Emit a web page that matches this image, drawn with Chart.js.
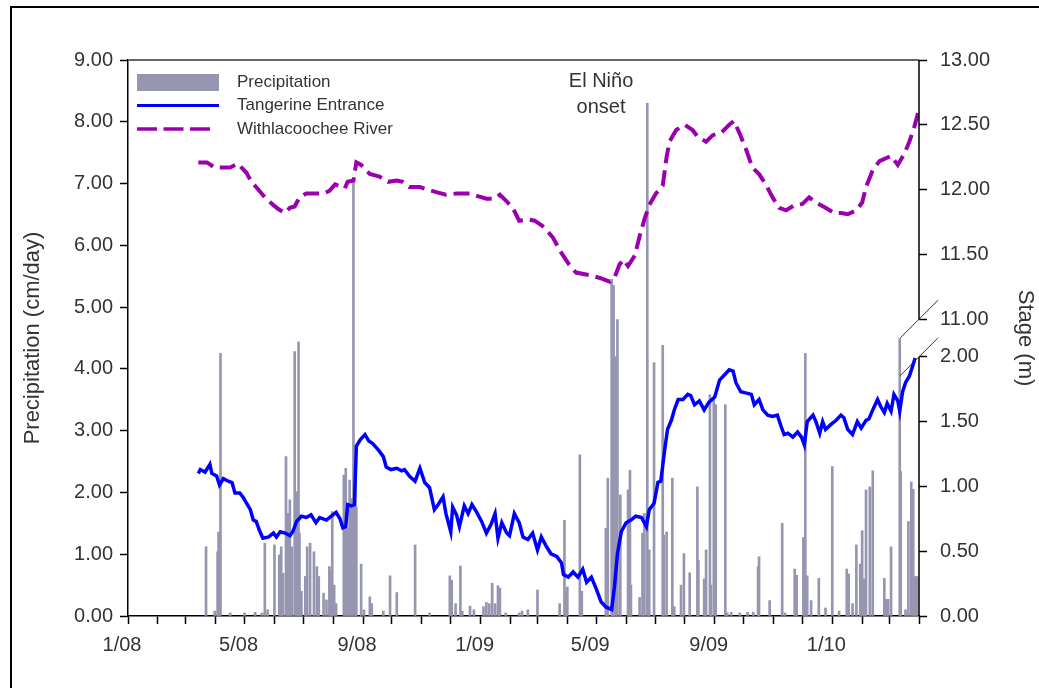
<!DOCTYPE html>
<html>
<head>
<meta charset="utf-8">
<title>Precipitation and stage</title>
<script src="https://cdn.jsdelivr.net/npm/chart.js@4.4.0/dist/chart.umd.min.js"></script>
<style>
  html, body { margin: 0; padding: 0; background: #fff; }
  canvas { display: block; }
</style>
</head>
<body>
<canvas id="grafico" width="1039" height="688"></canvas>
<script>
// all x values are days counted from 1 Jan 2008
const precipDays = [81,90,93,94,96,106,121,132,139,142,145,152,157,159,161,164,166,168,170,173,175,177,178,180,184,186,189,193,196,198,
  203,206,209,211,212,214,216,224,226,228,230,232,234,236,237,242,245,251,253,265,272,279,298,313,334,336,340,345,347,355,
  359,369,372,375,378,381,384,386,392,406,409,415,425,448,453,455,456,469,471,496,498,502,503,504,506,508,511,519,521,522,
  531,534,536,539,541,546,555,556,559,565,567,574,577,583,591,592,598,600,604,605,608,610,620,622,626,635,643,649,654,655,
  666,679,682,692,694,701,703,705,709,717,724,731,738,746,748,752,756,760,762,764,766,770,773,785,787,789,792,801,802,807,
  810,813,815,817,819]
const precipCm = [1.12,0.08,1.04,1.36,4.25,0.05,0.05,0.06,0.05,1.18,0.10,1.15,0.99,1.12,0.69,2.58,1.66,1.88,1.12,4.28,2.01,4.44,1.34,0.40,0.64,1.12,1.18,1.04,0.80,0.64,
  0.37,0.26,0.80,0.74,1.69,0.50,0.20,2.28,2.39,1.42,2.20,1.90,7.10,2.36,1.77,0.84,0.10,0.31,0.20,0.08,0.65,0.38,1.15,0.05,0.65,0.58,0.20,0.81,0.08,0.16,
  0.10,0.15,0.22,0.20,0.53,0.20,0.49,0.45,0.05,0.05,0.08,0.10,0.42,0.20,1.55,0.40,0.47,2.61,0.40,1.42,2.23,5.45,2.20,5.35,4.20,4.80,1.96,2.04,2.36,0.50,
  0.30,1.34,1.66,8.30,1.07,4.10,4.38,1.31,1.36,2.23,0.15,0.50,1.01,0.70,2.09,0.90,0.60,1.07,3.58,0.50,3.50,3.42,3.42,0.05,0.06,0.05,0.06,0.06,0.80,0.96,
  0.25,1.50,0.05,0.76,0.66,1.27,4.25,0.65,0.25,0.61,0.13,2.42,0.08,0.76,0.68,0.20,1.15,0.84,1.38,0.60,2.04,2.09,2.35,0.61,0.27,0.27,1.12,4.49,2.34,0.10,
  1.53,2.17,2.05,0.64,0.64]

const tangerineDays = [73,75,80,85,87,92,95,99,104,108,111,116,120,123,127,130,133,137,140,146,151,154,158,163,168,171,175,180,185,190,
  195,199,206,211,216,220,223,226,228,232,235,237,241,246,250,254,260,265,268,273,279,284,287,292,298,303,308,313,318,322,
  327,330,335,337,341,344,349,353,357,362,367,372,377,381,384,388,393,396,401,406,410,415,420,425,429,434,439,445,450,452,
  457,462,467,472,476,481,486,491,496,502,505,508,512,517,522,527,533,538,541,546,550,553,557,560,564,567,571,576,581,584,
  588,593,598,603,609,614,619,624,628,631,636,642,647,650,655,659,664,669,674,678,681,685,690,695,699,702,705,711,714,718,
  721,724,730,735,740,743,747,752,757,761,766,769,773,778,781,785,788,792,795,799,801,804,807,811,814,817]
const tangerineStage = [1.10,1.13,1.11,1.17,1.10,1.08,1.01,1.06,1.04,1.03,0.95,0.95,0.91,0.87,0.82,0.74,0.73,0.65,0.60,0.61,0.64,0.61,0.65,0.64,0.62,0.65,0.73,0.77,0.76,0.78,
  0.72,0.76,0.74,0.77,0.80,0.75,0.68,0.69,0.86,0.85,0.86,1.31,1.36,1.40,1.35,1.33,1.28,1.23,1.15,1.13,1.14,1.12,1.13,1.08,1.04,1.14,1.03,0.99,0.82,0.86,
  0.92,0.79,0.65,0.84,0.78,0.69,0.85,0.79,0.86,0.80,0.73,0.64,0.71,0.79,0.60,0.72,0.64,0.62,0.79,0.72,0.61,0.59,0.64,0.51,0.61,0.54,0.48,0.46,0.41,0.32,
  0.30,0.34,0.30,0.36,0.26,0.30,0.21,0.11,0.07,0.05,0.23,0.48,0.65,0.72,0.74,0.77,0.76,0.69,0.82,0.87,1.03,1.04,1.28,1.44,1.51,1.59,1.67,1.67,1.71,1.70,
  1.63,1.66,1.59,1.65,1.69,1.82,1.86,1.90,1.89,1.80,1.73,1.72,1.71,1.63,1.67,1.59,1.55,1.54,1.55,1.46,1.40,1.41,1.38,1.42,1.38,1.32,1.50,1.55,1.50,1.41,
  1.50,1.44,1.48,1.51,1.55,1.53,1.44,1.40,1.50,1.45,1.51,1.52,1.59,1.67,1.62,1.57,1.64,1.58,1.71,1.66,1.58,1.73,1.80,1.85,1.92,1.99]

const riverDays = [73,82,90,97,106,114,123,128,133,142,151,156,163,168,173,178,185,192,203,209,215,225,228,234,237,242,251,261,270,279,
  285,292,303,311,320,330,341,355,363,372,381,386,393,400,406,415,422,432,441,450,458,465,479,489,500,505,510,514,519,526,
  531,536,541,548,555,559,562,569,578,586,591,600,607,616,624,629,635,642,648,655,662,669,676,683,692,700,707,714,724,733,
  740,747,756,762,766,773,780,792,799,806,811,816,820]
const riverStage = [12.21,12.21,12.17,12.17,12.17,12.20,12.13,12.06,12.02,11.94,11.88,11.85,11.82,11.86,11.87,11.94,11.97,11.97,11.97,11.99,
  12.04,12.01,12.06,12.07,12.21,12.19,12.12,12.10,12.06,12.07,12.06,12.02,12.02,12.00,11.98,11.96,11.97,11.97,11.95,11.93,
  11.93,11.96,11.91,11.85,11.76,11.77,11.76,11.71,11.63,11.51,11.42,11.36,11.34,11.32,11.29,11.32,11.42,11.46,11.41,11.49,
  11.64,11.77,11.88,11.97,12.03,12.25,12.37,12.46,12.50,12.46,12.41,12.37,12.42,12.44,12.50,12.53,12.43,12.30,12.17,12.12,
  12.04,11.94,11.86,11.84,11.88,11.89,11.94,11.90,11.86,11.82,11.82,11.81,11.84,11.90,12.02,12.15,12.22,12.26,12.19,12.28,
  12.37,12.48,12.59]

const dateLabels = ['1/08','5/08','9/08','1/09','5/09','9/09','1/10']
const stageLowTicks = [0, 0.5, 1, 1.5, 2]
const stageHighTicks = [11, 11.5, 12, 12.5, 13]
const elNinoDay = 491
const elNinoText = ['El Niño', 'onset']

// the stage axis is broken: lower part in metres 0-2, upper part 11-13
const stageSpan = 4.29
const riverMin = 13 - stageSpan

// monthly tick positions, Jan 2008 to Apr 2010
const start = Date.UTC(2008, 0, 1)
const monthTicks = []
for (let m = 0; m <= 27; m++) {
  monthTicks.push((Date.UTC(2008, m, 1) - start) / 86400000)
}

const fuente = 'Liberation Sans, Arial, sans-serif'
const gris = '#333'
const colorLluvia = 'rgb(150,150,176)'
const colorAzul = '#0000ff'
const colorRio = '#9a00ad'

// white page, frame, plot border, broken axis, legend and note
const decor = {
  id: 'decor',
  beforeDraw(chart) {
    const ctx = chart.ctx
    ctx.save()
    ctx.fillStyle = '#fff'
    ctx.fillRect(0, 0, chart.width, chart.height)
    ctx.strokeStyle = '#000'
    ctx.lineWidth = 2
    ctx.beginPath()
    ctx.moveTo(11, chart.height)
    ctx.lineTo(11, 7)
    ctx.lineTo(chart.width, 7)
    ctx.stroke()
    ctx.restore()
  },
  afterDraw(chart) {
    const ctx = chart.ctx
    const area = chart.chartArea
    const yS = chart.scales.yStage
    ctx.save()
    // top edge of the plot
    ctx.strokeStyle = '#666'
    ctx.lineWidth = 2
    ctx.beginPath()
    ctx.moveTo(area.left, area.top)
    ctx.lineTo(area.right, area.top)
    ctx.stroke()

    // right axis with a break between 2.00 and 11.00
    const yBreakHigh = yS.getPixelForValue(11 - riverMin)
    const yBreakLow = yS.getPixelForValue(2)
    ctx.strokeStyle = '#000'
    ctx.lineWidth = 1.5
    ctx.beginPath()
    ctx.moveTo(area.right, area.top)
    ctx.lineTo(area.right, yBreakHigh)
    ctx.moveTo(area.right, yBreakLow)
    ctx.lineTo(area.right, area.bottom)
    ctx.stroke()
    ctx.strokeStyle = '#333'
    ctx.lineWidth = 1
    ctx.beginPath()
    for (const y of [yBreakHigh, yBreakLow]) {
      ctx.moveTo(area.right - 19, y + 19)
      ctx.lineTo(area.right + 19, y - 19)
    }
    ctx.stroke()

    // legend
    const lx = area.left + 9
    const rows = [area.top + 22, area.top + 45.5, area.top + 69]
    const ds = chart.data.datasets
    ctx.fillStyle = ds[0].backgroundColor
    ctx.fillRect(lx, rows[0] - 8, 82, 17)
    ctx.lineWidth = 3
    ctx.strokeStyle = ds[1].borderColor
    ctx.beginPath()
    ctx.moveTo(lx, rows[1])
    ctx.lineTo(lx + 82, rows[1])
    ctx.stroke()
    ctx.strokeStyle = ds[2].borderColor
    ctx.lineWidth = 3.5
    ctx.setLineDash([20, 6.5])
    ctx.beginPath()
    ctx.moveTo(lx, rows[2])
    ctx.lineTo(lx + 74, rows[2])
    ctx.stroke()
    ctx.setLineDash([])
    ctx.fillStyle = gris
    ctx.font = '17px ' + fuente
    ctx.textBaseline = 'middle'
    ctx.textAlign = 'left'
    ds.forEach((d, i) => ctx.fillText(d.label, lx + 100, rows[i]))

    // note at the onset date
    const nx = chart.scales.x.getPixelForValue(elNinoDay)
    ctx.font = '20px ' + fuente
    ctx.textAlign = 'center'
    ctx.fillText(elNinoText[0], nx, area.top + 21)
    ctx.fillText(elNinoText[1], nx, area.top + 47)
    ctx.restore()
  }
}

const ctx = document.getElementById('grafico')
const myChart = new Chart(ctx, {
  type: 'bar',
  data: {
    datasets: [
      {
        type: 'bar',
        label: 'Precipitation',
        data: precipDays.map((d, i) => ({ x: d, y: precipCm[i] })),
        backgroundColor: colorLluvia,
        barThickness: 2,
        yAxisID: 'y',
        order: 3
      },
      {
        type: 'line',
        label: 'Tangerine Entrance',
        data: tangerineDays.map((d, i) => ({ x: d, y: tangerineStage[i] })),
        borderColor: colorAzul,
        borderWidth: 3.5,
        pointRadius: 0,
        tension: 0,
        yAxisID: 'yStage',
        order: 1
      },
      {
        type: 'line',
        label: 'Withlacoochee River',
        data: riverDays.map((d, i) => ({ x: d, y: riverStage[i] })),
        borderColor: colorRio,
        borderWidth: 4,
        borderDash: [16, 7],
        pointRadius: 0,
        tension: 0,
        yAxisID: 'yRiver',
        order: 2
      }
    ]
  },
  options: {
    responsive: false,
    animation: false,
    devicePixelRatio: 1,
    layout: { padding: { top: 60, left: 0, right: 0, bottom: 0 } },
    plugins: {
      legend: { display: false },
      tooltip: { enabled: false }
    },
    scales: {
      x: {
        type: 'linear',
        min: 0,
        max: 821,
        offset: false,
        afterBuildTicks: s => { s.ticks = monthTicks.map(v => ({ value: v })) },
        afterFit: s => { s.height = 72 },
        grid: { offset: false, drawOnChartArea: false, tickLength: 8, tickColor: '#000', tickWidth: 1.5 },
        border: { color: '#000', width: 1.5 },
        ticks: {
          autoSkip: false,
          maxRotation: 0,
          padding: 9,
          labelOffset: -6,
          color: gris,
          font: { family: fuente, size: 20 },
          callback: (v, i) => (i % 4 === 0 ? dateLabels[i / 4] : '')
        }
      },
      y: {
        position: 'left',
        min: 0,
        max: 9,
        afterFit: s => { s.width = 128 },
        grid: { drawOnChartArea: false, tickLength: 8, tickColor: '#000', tickWidth: 1.5 },
        border: { color: '#000', width: 1.5 },
        ticks: {
          stepSize: 1,
          padding: 7,
          color: gris,
          font: { family: fuente, size: 20 },
          callback: v => v.toFixed(2)
        },
        title: {
          display: true,
          text: 'Precipitation (cm/day)',
          color: gris,
          font: { family: fuente, size: 22 },
          padding: { top: 20, bottom: 0 }
        }
      },
      yStage: {
        position: 'right',
        min: 0,
        max: stageSpan,
        afterBuildTicks: s => {
          s.ticks = stageLowTicks.map(v => ({ value: v }))
            .concat(stageHighTicks.map(v => ({ value: v - riverMin })))
        },
        afterFit: s => { s.width = 120 },
        grid: { drawOnChartArea: false, tickLength: 8, tickColor: '#000', tickWidth: 1.5 },
        border: { display: false },
        ticks: {
          padding: 13,
          color: gris,
          font: { family: fuente, size: 20 },
          callback: (v, i) => (i < stageLowTicks.length ? stageLowTicks[i] : stageHighTicks[i - stageLowTicks.length]).toFixed(2)
        },
        title: {
          display: true,
          text: 'Stage (m)',
          color: gris,
          font: { family: fuente, size: 22 },
          padding: { top: 1, bottom: 0 }
        }
      },
      yRiver: {
        display: false,
        min: riverMin,
        max: 13
      }
    }
  },
  plugins: [decor]
})
</script>
</body>
</html>
